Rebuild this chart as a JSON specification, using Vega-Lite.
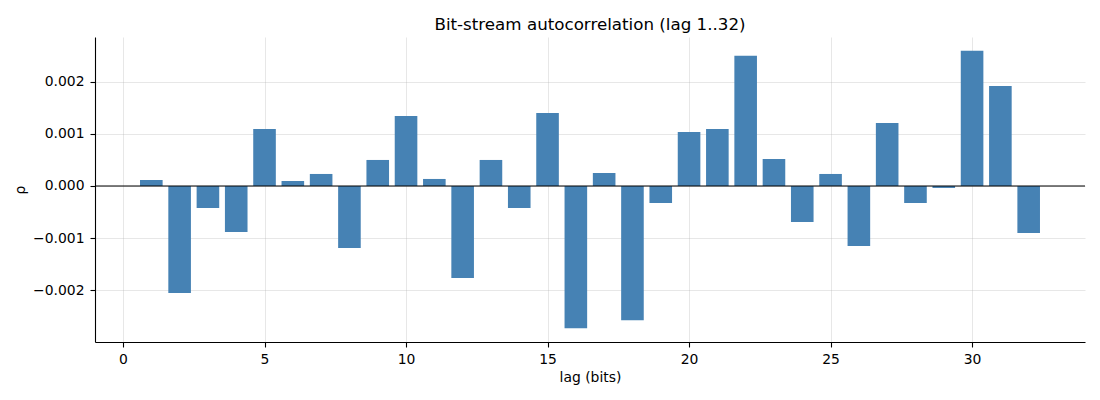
{
  "$schema": "https://vega.github.io/schema/vega-lite/v6.json",
  "width": 990,
  "height": 305,
  "autosize": {"type": "none"},
  "padding": {"left": 95, "top": 37, "right": 15, "bottom": 58},
  "background": "white",
  "config": {
    "view": {"stroke": null},
    "font": "DejaVu Sans",
    "axis": {
      "labelFont": "DejaVu Sans",
      "titleFont": "DejaVu Sans",
      "labelFontSize": 13.9,
      "titleFontSize": 13.9,
      "titleFontWeight": "normal",
      "labelColor": "black",
      "titleColor": "black",
      "domainColor": "black",
      "domainWidth": 1.1,
      "tickColor": "black",
      "tickSize": 5,
      "tickWidth": 1.1,
      "labelPadding": 5,
      "labelFlush": false,
      "labelOverlap": false,
      "gridColor": "#b0b0b0",
      "gridOpacity": 0.3,
      "gridWidth": 1
    }
  },
  "title": {
    "text": "Bit-stream autocorrelation (lag 1..32)",
    "font": "DejaVu Sans",
    "fontSize": 16.7,
    "fontWeight": "normal",
    "color": "black",
    "offset": 3,
    "anchor": "middle"
  },
  "data": {
    "values": [
      {"lag": 1, "rho": 0.000115},
      {"lag": 2, "rho": -0.002058},
      {"lag": 3, "rho": -0.000423},
      {"lag": 4, "rho": -0.000885},
      {"lag": 5, "rho": 0.001096},
      {"lag": 6, "rho": 0.000096},
      {"lag": 7, "rho": 0.000231},
      {"lag": 8, "rho": -0.001192},
      {"lag": 9, "rho": 0.0005},
      {"lag": 10, "rho": 0.001346},
      {"lag": 11, "rho": 0.000135},
      {"lag": 12, "rho": -0.001769},
      {"lag": 13, "rho": 0.0005},
      {"lag": 14, "rho": -0.000423},
      {"lag": 15, "rho": 0.001404},
      {"lag": 16, "rho": -0.002731},
      {"lag": 17, "rho": 0.00025},
      {"lag": 18, "rho": -0.002577},
      {"lag": 19, "rho": -0.000327},
      {"lag": 20, "rho": 0.001038},
      {"lag": 21, "rho": 0.001096},
      {"lag": 22, "rho": 0.0025},
      {"lag": 23, "rho": 0.000519},
      {"lag": 24, "rho": -0.000692},
      {"lag": 25, "rho": 0.000231},
      {"lag": 26, "rho": -0.001154},
      {"lag": 27, "rho": 0.001212},
      {"lag": 28, "rho": -0.000327},
      {"lag": 29, "rho": -0.000038},
      {"lag": 30, "rho": 0.002596},
      {"lag": 31, "rho": 0.001923},
      {"lag": 32, "rho": -0.000904}
    ]
  },
  "layer": [
    {
      "mark": {"type": "bar", "color": "#4682b4", "width": 22.6},
      "encoding": {
        "x": {
          "field": "lag",
          "type": "quantitative",
          "scale": {"domain": [-0.99, 33.99], "nice": false, "zero": false, "padding": 0},
          "axis": {"values": [0, 5, 10, 15, 20, 25, 30], "title": "lag (bits)", "titlePadding": 5, "grid": true}
        },
        "y": {
          "field": "rho",
          "type": "quantitative",
          "scale": {"domain": [-0.002997, 0.002862], "nice": false, "zero": false, "padding": 0},
          "axis": {"values": [-0.002, -0.001, 0, 0.001, 0.002], "format": ".3f", "title": "ρ", "titlePadding": 5, "labelPadding": 6, "grid": true}
        },
        "y2": {"datum": 0}
      }
    },
    {
      "data": {"values": [{"y": 0}]},
      "mark": {"type": "rule", "color": "black", "strokeWidth": 1.1},
      "encoding": {"y": {"field": "y", "type": "quantitative"}}
    }
  ]
}
